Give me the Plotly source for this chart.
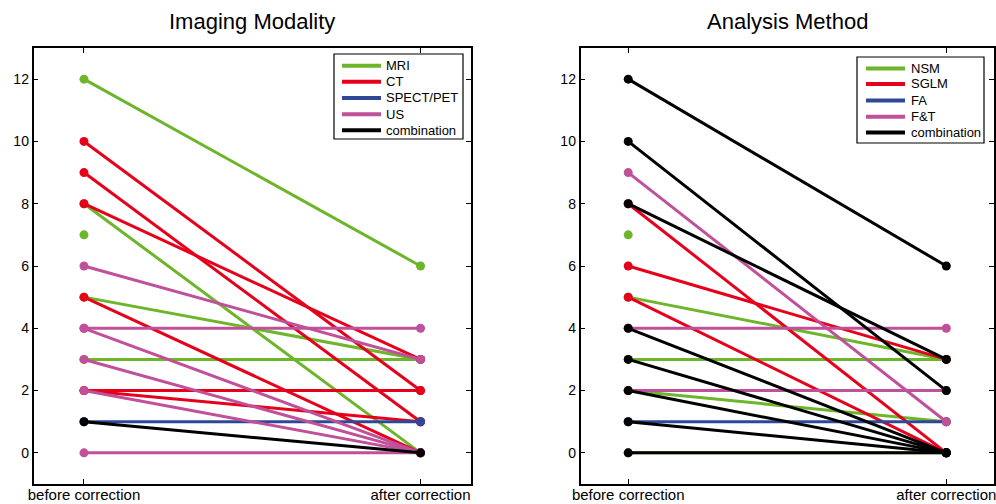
import plotly.graph_objects as go

# ---------------- data ----------------
x_labels = ["before correction", "after correction"]
y_ticks = [0, 2, 4, 6, 8, 10, 12]

# Panel 1: Imaging Modality
mod_names = ["MRI", "CT", "SPECT/PET", "US", "combination"]
mri_before = [12, 8, 5, 3, 7]
mri_after = [6, 0, 3, 3, None]
ct_before = [10, 9, 8, 5, 2, 2]
ct_after = [2, 1, 3, 0, 2, 1]
spect_before = [1]
spect_after = [1]
us_before = [6, 4, 4, 3, 2, 0]
us_after = [3, 4, 0, 0, 0, 0]
modcomb_before = [1]
modcomb_after = [0]

# Panel 2: Analysis Method
meth_names = ["NSM", "SGLM", "FA", "F&T", "combination"]
nsm_before = [7, 5, 3, 2, 2, 0]
nsm_after = [None, 3, 3, 1, 2, 0]
sglm_before = [8, 6, 5]
sglm_after = [0, 3, 0]
fa_before = [1]
fa_after = [1]
ft_before = [9, 4, 2]
ft_after = [1, 4, 2]
methcomb_before = [12, 10, 8, 4, 3, 2, 1, 0]
methcomb_after = [6, 2, 3, 0, 0, 0, 0, 0]

colors = ["#6db52b", "#e5001c", "#2f4895", "#c0509a", "#000000"]

FONT = "Liberation Sans, Arial, Helvetica, sans-serif"
W, H = 996, 504

fig = go.Figure()


def add_group(before, after, color, xa, ya):
    xs, ys = [], []
    for b, a in zip(before, after):
        xs += [x_labels[0], x_labels[1], None]
        ys += [b, a, None]
    fig.add_trace(go.Scatter(
        x=xs, y=ys, mode="lines+markers", xaxis=xa, yaxis=ya,
        line=dict(color=color, width=3), marker=dict(color=color, size=9),
        connectgaps=False, showlegend=False, hoverinfo="skip"))


panel1 = [(mri_before, mri_after), (ct_before, ct_after),
          (spect_before, spect_after), (us_before, us_after),
          (modcomb_before, modcomb_after)]
panel2 = [(nsm_before, nsm_after), (sglm_before, sglm_after),
          (fa_before, fa_after), (ft_before, ft_after),
          (methcomb_before, methcomb_after)]

for (b, a), c in zip(panel1, colors):
    add_group(b, a, c, "x", "y")
for (b, a), c in zip(panel2, colors):
    add_group(b, a, c, "x2", "y2")

# ---------------- manual legends (paper coords, pixels -> fractions) ----
shapes = []
annotations = []


def px(x):
    return x / W


def py(y):
    return 1 - y / H


def legend_box(names, left, top, right, bottom, line_x0, line_x1, text_x, ys):
    shapes.append(dict(type="rect", xref="paper", yref="paper",
                       x0=px(left), x1=px(right), y0=py(bottom), y1=py(top),
                       line=dict(color="black", width=1.2),
                       fillcolor="white", layer="above"))
    for name, c, yy in zip(names, colors, ys):
        shapes.append(dict(type="line", xref="paper", yref="paper",
                           x0=px(line_x0), x1=px(line_x1),
                           y0=py(yy), y1=py(yy),
                           line=dict(color=c, width=4), layer="above"))
        annotations.append(dict(text=name, x=px(text_x), y=py(yy),
                                xref="paper", yref="paper", showarrow=False,
                                xanchor="left", yanchor="middle",
                                font=dict(family=FONT, size=13, color="black")))


legend_box(mod_names, 334, 54, 463, 139, 342, 381, 384,
           [65.7, 81.7, 98.0, 114.3, 130.3])
legend_box(meth_names, 857, 57, 984, 143, 866, 905, 909,
           [68.5, 84.0, 100.5, 116.7, 132.5])

annotations += [
    dict(text="Imaging Modality", x=(33.5 + 471) / 2 / W, y=py(22),
         xref="paper", yref="paper", showarrow=False,
         xanchor="center", yanchor="middle",
         font=dict(family=FONT, size=22, color="black")),
    dict(text="Analysis Method", x=(580.5 + 994) / 2 / W, y=py(22),
         xref="paper", yref="paper", showarrow=False,
         xanchor="center", yanchor="middle",
         font=dict(family=FONT, size=22, color="black")),
]

ydom = [(504 - 484) / H, (504 - 48) / H]

axis_common = dict(
    showline=True, linecolor="black", linewidth=1.5, mirror="ticks",
    ticks="inside", ticklen=5, tickwidth=1, tickcolor="black",
    showgrid=False, zeroline=False, automargin=False,
    tickfont=dict(family=FONT, size=14, color="black"),
)

xaxis_common = dict(axis_common, type="category", categoryorder="array",
                    categoryarray=x_labels, range=[-0.15, 1.15],
                    tickfont=dict(family=FONT, size=15, color="black"),
                    ticklabelstandoff=-4)
yaxis_common = dict(axis_common, range=[-1, 13], tickvals=y_ticks)

fig.update_layout(
    width=W, height=H,
    margin=dict(l=0, r=0, t=0, b=0, autoexpand=False),
    paper_bgcolor="white", plot_bgcolor="white",
    font=dict(family=FONT, color="black"),
    showlegend=False,
    xaxis=dict(xaxis_common, domain=[33.5 / W, 471 / W], anchor="y"),
    yaxis=dict(yaxis_common, domain=ydom, anchor="x"),
    xaxis2=dict(xaxis_common, domain=[580.5 / W, 994 / W], anchor="y2"),
    yaxis2=dict(yaxis_common, domain=ydom, anchor="x2"),
    shapes=shapes,
    annotations=annotations,
)

fig.write_html("out.html")
